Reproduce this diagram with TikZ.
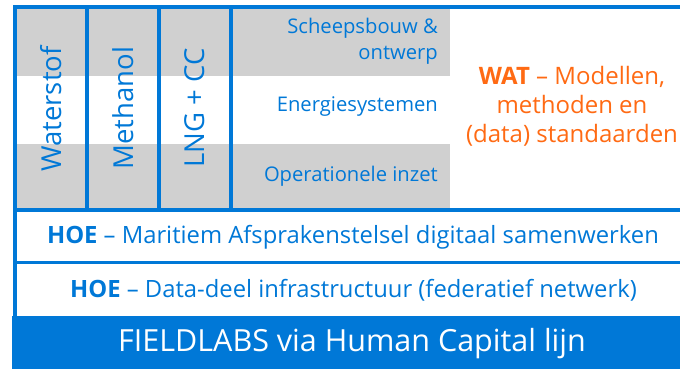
\documentclass[tikz,border=0pt]{standalone}
\usepackage{fontspec}
\setmainfont{Open Sans}
\definecolor{lijnblauw}{RGB}{0,120,215}
\definecolor{vakgrijs}{RGB}{208,208,208}
\definecolor{watoranje}{RGB}{255,106,19}

\begin{document}
\begin{tikzpicture}[x=1pt,y=-1pt,
  lijn/.style={draw=lijnblauw,line width=4pt},
  kolom/.style={text=lijnblauw,font=\fontsize{27.5}{30}\selectfont,rotate=90,inner sep=0pt},
  thema/.style={text=lijnblauw,font=\fontsize{20.2}{26}\selectfont,align=right,anchor=east,inner sep=0pt},
  laag/.style={text=lijnblauw,font=\fontsize{23.8}{26}\selectfont,inner sep=0pt}]
 \useasboundingbox (0,0) rectangle (680,369);
 % grijze banden
 \fill[vakgrijs] (15,7) rectangle (450,76);
 \fill[vakgrijs] (15,144) rectangle (450,210);
 \fill[lijnblauw] (12,316) rectangle (680,369);
 % raster
 \draw[lijn] (15,316) -- (15,7) -- (680,7);
 \draw[lijn] (15,210) -- (680,210);
 \draw[lijn,line width=3pt] (15,262) -- (680,262);
 \foreach \x in {86.5,159,231}
  \draw[lijn] (\x,7) -- (\x,210);
 % kolommen
 \node[kolom] (waterstof) at (51,109) {Waterstof};
 \node[kolom] (methanol) at (123,108) {Methanol};
 \node[kolom] (lng) at (195,108) {LNG + CC};
 % thema's
 \node[thema] (scheepsbouw) at (438,41) {Scheepsbouw \&\\ontwerp};
 \node[thema] (energie) at (438,107) {Energiesystemen};
 \node[thema] (inzet) at (438,176) {Operationele inzet};
 \node[text=watoranje,font=\fontsize{24}{29}\selectfont,align=center,inner sep=0pt] (wat) at (572,106)
  {\textbf{WAT} -- Modellen,\\methoden en\\(data) standaarden};
 % lagen
 \node[laag] (afspraken) at (353,237) {\textbf{HOE} -- Maritiem Afsprakenstelsel digitaal samenwerken};
 \node[laag] (infra) at (353.5,290) {\textbf{HOE} -- Data-deel infrastructuur (federatief netwerk)};
 \node[text=white,font=\fontsize{30.5}{34}\selectfont,inner sep=0pt] (fieldlabs) at (352,344) {FIELDLABS via Human Capital lijn};
\end{tikzpicture}
\end{document}
